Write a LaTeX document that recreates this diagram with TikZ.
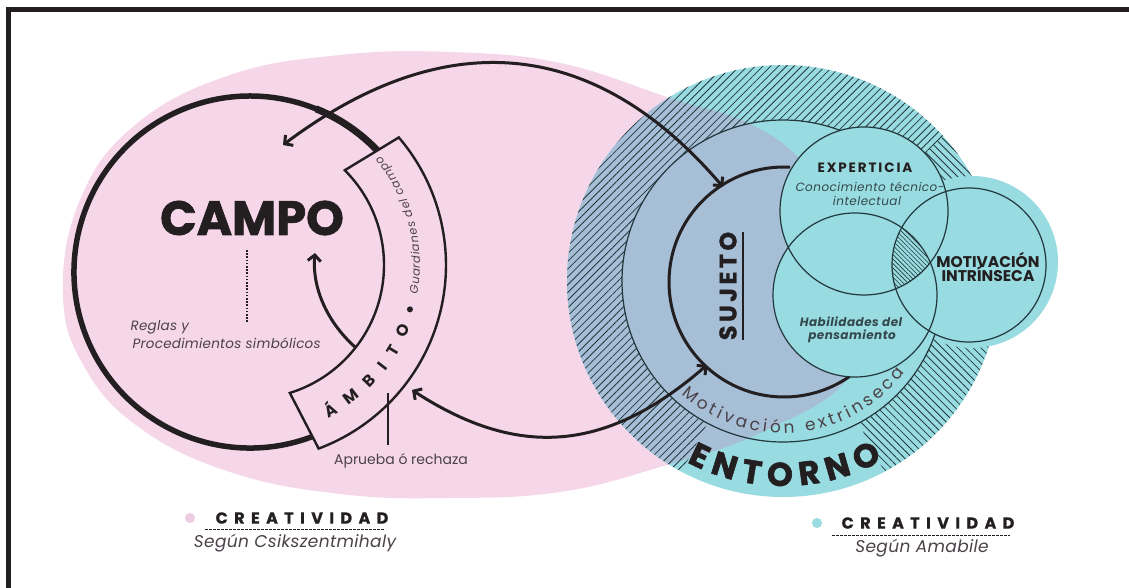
\documentclass[tikz,border=0pt]{standalone}
\usepackage{fontspec}
\setmainfont{Poppins}
\usetikzlibrary{arrows.meta,patterns.meta,decorations.text,calc}
\definecolor{pinkbg}{HTML}{F6D6E9}
\definecolor{pinkdot}{HTML}{F0CCE1}
\definecolor{tealbg}{HTML}{98DBE0}
\definecolor{bluebg}{HTML}{A6BED6}
\definecolor{ink}{HTML}{231F20}
\definecolor{tealink}{HTML}{22383D}
\definecolor{grayink}{HTML}{4B4249}
\definecolor{textteal}{HTML}{34494E}
\newcommand\blobpath{plot[smooth cycle, tension=0.7] coordinates {(63,295) (80,200) (135,125) (230,75) (340,55) (450,52) (560,63) (670,98) (750,124) (805,165) (845,230) (860,300) (848,378) (760,433) (660,467) (560,492) (450,498) (340,494) (230,472) (140,428) (85,368)}}
\newcommand\campofont{\fontsize{48}{48}\selectfont\bfseries\addfontfeatures{FakeBold=1.5}}
\newcommand\reglasfont{\fontsize{13.5}{16}\selectfont\itshape\addfontfeatures{LetterSpace=2}}
\newcommand\aprfont{\fontsize{14}{16}\selectfont}
\newcommand\sujfont{\fontsize{24}{24}\selectfont\bfseries\addfontfeatures{LetterSpace=14,FakeBold=1}}
\newcommand\expfont{\fontsize{13.5}{14}\selectfont\bfseries\addfontfeatures{LetterSpace=14}}
\newcommand\conofont{\fontsize{12}{13}\selectfont\itshape\addfontfeatures{LetterSpace=4}}
\newcommand\habfont{\fontsize{12}{13}\selectfont\bfseries\itshape\addfontfeatures{LetterSpace=4}}
\newcommand\motfont{\fontsize{15.5}{15}\selectfont\bfseries}
\newcommand\ambfont{\fontsize{16}{16}\selectfont\bfseries}
\newcommand\guafont{\fontsize{11.5}{12}\selectfont\itshape}
\newcommand\extfont{\fontsize{17}{17}\selectfont}
\newcommand\entfont{\fontsize{33}{33}\selectfont\bfseries\addfontfeatures{FakeBold=1.5}}
\newcommand\legfont{\fontsize{16}{16}\selectfont\bfseries\addfontfeatures{LetterSpace=40,FakeBold=0.8}}
\newcommand\legsub{\fontsize{17}{17}\selectfont\itshape\addfontfeatures{LetterSpace=2}}
\begin{document}
\begin{tikzpicture}[x=1pt,y=-1pt,
  campoline/.style={line width=5.5pt,draw=ink},
  conn/.style={line width=3pt,draw=ink},
  arr/.style={-{Straight Barb[length=6pt,width=13pt]}},
  darr/.style={{Straight Barb[length=6pt,width=13pt]}-{Straight Barb[length=6pt,width=13pt]}},
  vennline/.style={line width=1.2pt,draw=tealink},
  hatchne/.style={pattern={Lines[angle=45,distance=5.5pt,line width=0.8pt]},pattern color=tealink},
  hatchnw/.style={pattern={Lines[angle=-45,distance=5.5pt,line width=0.8pt]},pattern color=tealink},
  lenshatch/.style={pattern={Lines[angle=-45,distance=3.2pt,line width=0.6pt]},pattern color=tealink},
  curvetext/.style={decorate,decoration={text along path,text align={fit to path},text color=#1}},
]
\useasboundingbox (0,0) rectangle (1129,588);
\fill[white] (0,0) rectangle (1129,588);
% frame
\draw[line width=4.5pt,ink] (8.5,620) -- (8.5,9.5) -- (1160,9.5);
% pink blob
\fill[pinkbg] \blobpath;
% entorno
\coordinate (E) at (783,281);
\fill[tealbg] (E) circle[radius=216];
\begin{scope}
  \clip (E) circle[radius=216];
  \fill[bluebg] \blobpath;
\end{scope}
\begin{scope}
  \clip (E) -- ($(E)+(118:300)$) arc[start angle=118,end angle=318,radius=300] -- cycle;
  \fill[hatchne,even odd rule] (E) circle[radius=216] (E) circle[radius=161];
\end{scope}
\begin{scope}
  \clip (E) -- ($(E)+(-42:300)$) arc[start angle=-42,end angle=62,radius=300] -- cycle;
  \fill[hatchnw,even odd rule] (E) circle[radius=216] (E) circle[radius=161];
\end{scope}
\coordinate (MIb) at (972,262);
\fill[tealbg] (MIb) circle[radius=86];
\draw[vennline] (E) circle[radius=161];
% sujeto arc
\coordinate (S) at (784,282);
\draw[line width=3pt,ink] ($(S)+(-87:115)$) arc[start angle=-87,end angle=-305,radius=115];
% venn
\coordinate (EX) at (864,211);
\coordinate (HA) at (855,295);
\coordinate (MI) at (969,265);
\fill[tealbg] (EX) circle[radius=84] (HA) circle[radius=82] (MI) circle[radius=77];
\begin{scope}
  \clip (EX) circle[radius=84];
  \clip (HA) circle[radius=82];
  \fill[lenshatch] (MI) circle[radius=77];
\end{scope}
\draw[vennline] (EX) circle[radius=84] (HA) circle[radius=82] (MI) circle[radius=77];
% texts right
\node[font=\sujfont,text=ink,rotate=90] (suj) at (728,286) {SUJETO};
\draw[ink,line width=1.2pt] (743,232) -- (743,340);
\node[font=\expfont,text=ink] (exp) at (865,168) {EXPERTICIA};
\node[font=\conofont,text=textteal] (cono1) at (870,187) {Conocimiento técnico-};
\node[font=\conofont,text=textteal] (cono2) at (867,201) {intelectual};
\node[font=\habfont,text=textteal] (hab1) at (851,322) {Habilidades del};
\node[font=\habfont,text=textteal] (hab2) at (852,336) {pensamiento};
\node[font=\motfont,text=ink] (mot1) at (988,260) {MOTIVACIÓN};
\node[font=\motfont,text=ink] (mot2) at (988,274) {INTRÍNSECA};
\path[curvetext=grayink,decoration={text={|\extfont|Motivación extrinseca}}] ($(E)+(132:152)$) arc[start angle=132,end angle=37,radius=152];
\path[curvetext=ink,decoration={text={|\entfont|ENTORNO}}] ($(E)+(118:205)$) arc[start angle=118,end angle=61,radius=205];
% campo
\coordinate (C) at (250,272);
\draw[campoline] ($(C)+(66:176)$) arc[start angle=66,end angle=322,radius=176];
\draw[ink,line width=7pt] ($(C)+(292:176)$) arc[start angle=292,end angle=322,radius=176];
\coordinate (B) at (250,265);
\filldraw[fill=pinkbg,draw=ink,line width=2.4pt,line join=miter] ($(B)+(-45:134)$) arc[start angle=-45,end angle=72.7,radius=134] -- ($(B)+(69.5:196)$) arc[start angle=69.5,end angle=-40.6,radius=196] -- cycle;
\path[curvetext=ink,decoration={text={|\ambfont|ÁMBITO}}] ($(B)+(63:172)$) arc[start angle=63,end angle=21,radius=172];
\fill[ink] ($(B)+(15.5:166)$) circle[radius=3];
\path[curvetext=grayink,decoration={text={|\guafont|Guardianes del campo}}] ($(B)+(10:170)$) arc[start angle=10,end angle=-40,radius=170];
\node[font=\campofont,text=ink] (campo) at (252,218) {CAMPO};
\draw[ink,line width=1.6pt,dash pattern=on 1.6pt off 1.6pt] (247,250) -- (247,323);
\node[font=\reglasfont,text=grayink,anchor=base west] (reg1) at (127,330) {Reglas y};
\node[font=\reglasfont,text=grayink,anchor=base west] (reg2) at (129,348) {Procedimientos simbólicos};
\draw[ink,line width=2pt] (388,393) -- (388,445);
\node[font=\aprfont,text=grayink] (apr) at (401,461) {Aprueba ó rechaza};
% arrows
\coordinate (campoIn) at (283,145);
\coordinate (sujTop) at (723,187);
\draw[conn,darr] (campoIn) .. controls (443,25) and (593,35) .. (sujTop);
\coordinate (ambOut) at (412,390);
\coordinate (sujBot) at (707,365);
\draw[conn,darr] (ambOut) .. controls (521,461) and (609,450) .. (sujBot);
\coordinate (ambIn) at (355,347);
\coordinate (campoTip) at (315,253);
\draw[conn,arr] (ambIn) .. controls (325,320) and (312,285) .. (campoTip);
% legends
\fill[pinkdot] (190,518) circle[radius=5];
\node[font=\legfont,text=ink] (leg1) at (302,518) {CREATIVIDAD};
\draw[ink,line width=0.8pt,dash pattern=on 2.5pt off 1.5pt] (205,529) -- (384,529);
\node[font=\legsub,text=grayink] (leg1s) at (295,543) {Según Csikszentmihaly};
\fill[tealbg] (817,523) circle[radius=5];
\node[font=\legfont,text=ink] (leg2) at (928,523) {CREATIVIDAD};
\draw[ink,line width=0.8pt,dash pattern=on 2.5pt off 1.5pt] (832,535) -- (1010,535);
\node[font=\legsub,text=grayink] (leg2s) at (922,548) {Según Amabile};
\end{tikzpicture}
\end{document}
